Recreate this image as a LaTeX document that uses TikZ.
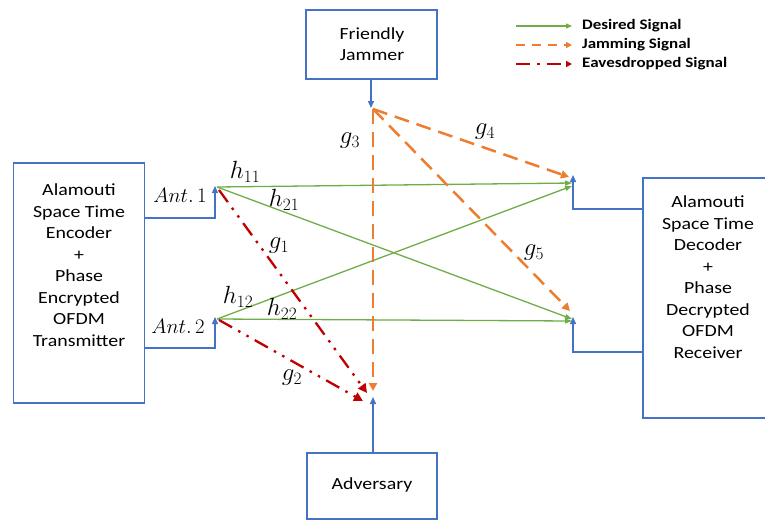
\documentclass[tikz,border=0pt]{standalone}
\usepackage{fontspec}
\setmainfont{Carlito}
\newfontfamily\boxfont[FakeStretch=1.17]{Carlito}
\usetikzlibrary{arrows.meta}
\definecolor{oblue}{RGB}{68,114,196}
\definecolor{ogreen}{RGB}{112,173,71}
\definecolor{oorange}{RGB}{237,125,49}
\definecolor{ored}{RGB}{192,0,0}
\begin{document}
\begin{tikzpicture}[x=1pt,y=-1pt,
  boxshape/.style={draw=oblue,line width=1.4pt,inner sep=0pt},
  boxtext/.style={align=center,font=\boxfont\fontsize{17}{21.5}\selectfont,inner sep=0pt},
  feed/.style={draw=oblue,line width=1.4pt,-{Triangle[length=7pt,width=6pt]}},
  desired/.style={draw=ogreen,line width=1.3pt,-{Triangle[length=7pt,width=5pt]}},
  jamming/.style={draw=oorange,line width=2.5pt,dash pattern=on 15pt off 8pt,-{Triangle[length=8pt,width=8pt]}},
  eaves/.style={draw=ored,line width=2.3pt,dash pattern=on 15pt off 7pt on 2.5pt off 7pt on 2.5pt off 7pt,-{Triangle[length=9pt,width=9pt]}},
  lbl/.style={inner sep=0pt,font=\fontsize{25}{27}\selectfont},
  antlbl/.style={inner sep=0pt,font=\fontsize{21}{23}\selectfont},
  legtext/.style={anchor=west,inner sep=0pt,font=\boxfont\fontsize{14.5}{16}\selectfont\bfseries}
]
\useasboundingbox (0,0) rectangle (765,523);
% boxes
\node[boxshape,minimum width=131pt,minimum height=240pt] (tx) at (79,283) {};
\node[boxtext] (txt) at (79,265) {Alamouti\\Space Time\\Encoder\\+\\Phase\\Encrypted\\OFDM\\Transmitter};
\node[boxshape,minimum width=134pt,minimum height=240pt] (rx) at (710,298) {};
\node[boxtext] (rxt) at (708,277) {Alamouti\\Space Time\\Decoder\\+\\Phase\\Decrypted\\OFDM\\Receiver};
\node[boxshape,minimum width=131pt,minimum height=69pt] (jam) at (371.5,44.5) {};
\node[boxtext] (jamt) at (372,44) {Friendly\\Jammer};
\node[boxshape,minimum width=130pt,minimum height=66pt] (adv) at (372,486) {};
\node[boxtext] (advt) at (372,485) {Adversary};
% antenna points
\coordinate (A1) at (215,186);
\coordinate (A2) at (215,317);
\coordinate (R1) at (573,175);
\coordinate (R2) at (573,317);
\coordinate (J) at (371,108);
\coordinate (E) at (373,397);
\coordinate (t1) at (215,218);
\coordinate (t2) at (215,348);
\coordinate (r1) at (573,209);
\coordinate (r2) at (573,352);
% feeds
\draw[feed] (tx.east |- t1) -- (t1) -- (A1);
\draw[feed] (tx.east |- t2) -- (t2) -- (A2);
\draw[feed] (rx.west |- r1) -- (r1) -- (R1);
\draw[feed] (rx.west |- r2) -- (r2) -- (R2);
\draw[feed] (jam.south -| J) -- (J);
\draw[feed] (adv.north -| E) -- (E);
% desired
\coordinate (A1s) at (217,187);
\coordinate (A2s) at (217,319);
\coordinate (R1a) at (572,183);
\coordinate (R1b) at (572,186);
\coordinate (R2a) at (572,319);
\coordinate (R2b) at (572,321);
\draw[desired] (A1s) -- (R1a);
\draw[desired] (A1s) -- (R2a);
\draw[desired] (A2s) -- (R1b);
\draw[desired] (A2s) -- (R2b);
% jamming
\coordinate (Js) at (373,109);
\coordinate (E3) at (373,391);
\coordinate (G4) at (569,177);
\coordinate (G5) at (570,311);
\draw[jamming] (Js) -- (E3);
\draw[jamming] (Js) -- (G4);
\draw[jamming] (Js) -- (G5);
% eavesdropped
\coordinate (A1e) at (219,190);
\coordinate (A2e) at (219,320);
\coordinate (E1) at (367,393);
\coordinate (E2) at (363,401);
\draw[eaves] (A1e) -- (E1);
\draw[eaves] (A2e) -- (E2);
% labels
\node[lbl] (h11) at (245,172) {$h_{11}$};
\node[lbl] (h21) at (284,200) {$h_{21}$};
\node[lbl] (g1) at (279,246) {$g_{1}$};
\node[lbl] (h12) at (238,297) {$h_{12}$};
\node[lbl] (h22) at (282,309) {$h_{22}$};
\node[lbl] (g2) at (292,378) {$g_{2}$};
\node[lbl] (g3) at (350,141) {$g_{3}$};
\node[lbl] (g4) at (485,132) {$g_{4}$};
\node[lbl] (g5) at (534,253) {$g_{5}$};
\node[antlbl] (ant1) at (180,195) {$Ant.\,1$};
\node[antlbl] (ant2) at (178,326) {$Ant.\,2$};
% legend
\coordinate (l1a) at (516,26); \coordinate (l1b) at (572,26);
\coordinate (l2a) at (516,45); \coordinate (l2b) at (572,45);
\coordinate (l3a) at (516,64); \coordinate (l3b) at (572,64);
\draw[draw=ogreen,line width=1.3pt,-{Triangle[length=6pt,width=5pt]}] (l1a) -- (l1b);
\draw[draw=oorange,line width=2.3pt,dash pattern=on 9pt off 7pt,-{Triangle[length=6pt,width=6pt]}] (l2a) -- (l2b);
\draw[draw=ored,line width=2.5pt,dash pattern=on 14pt off 7pt on 2.5pt off 7pt,-{Triangle[length=6pt,width=6pt]}] (l3a) -- (l3b);
\node[legtext] (lt1) at (582,26) {Desired Signal};
\node[legtext] (lt2) at (582,45) {Jamming Signal};
\node[legtext] (lt3) at (582,64) {Eavesdropped Signal};
\end{tikzpicture}
\end{document}
